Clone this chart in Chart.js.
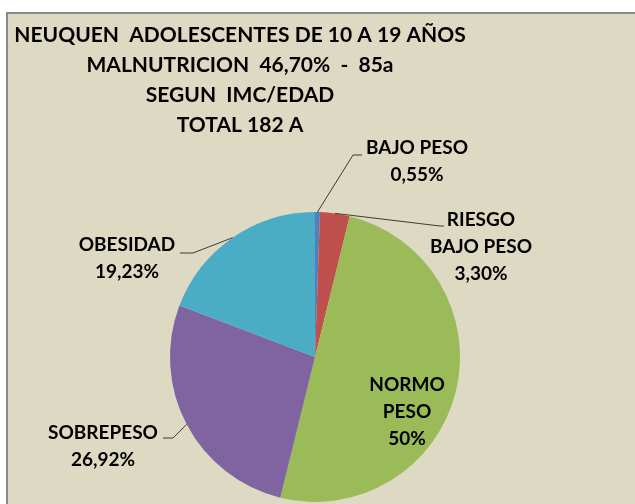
<!DOCTYPE html>
<html>
<head>
<meta charset="utf-8">
<script src="https://cdn.jsdelivr.net/npm/chart.js@4.4.0/dist/chart.umd.min.js"></script>
<style>
    body { margin: 0; background: #fff; }
    #wrap { position: relative; width: 635px; height: 504px; overflow: hidden; }
    #frame { position: absolute; left: 6px; top: 12px; width: 700px; height: 600px; background: #ddd9c3; border: 2px solid #8a8a8a; }
    canvas { position: absolute; left: 0; top: 0; }
</style>
</head>
<body>
<div id="wrap">
    <div id="frame"></div>
    <canvas id="myChart" width="635" height="504"></canvas>
</div>
<script>
const titleLines = [
    "NEUQUEN  ADOLESCENTES DE 10 A 19 AÑOS",
    "MALNUTRICION  46,70%  -  85a",
    "SEGUN  IMC/EDAD",
    "TOTAL 182 A",
];

const categories = [
    ["BAJO PESO"],
    ["RIESGO", "BAJO PESO"],
    ["NORMO", "PESO"],
    ["SOBREPESO"],
    ["OBESIDAD"],
];

const values = [0.55, 3.3, 50, 26.92, 19.23];

const colors = ["#4f81bd", "#c0504d", "#9bbb59", "#8064a2", "#4bacc6"];

// where each data label sits (text centre of first line) and its leader line
const labelLayout = [
    { x: 417, y: 148, line: [[353, 155], [362, 155]] },
    { x: 481, y: 220, line: [[440, 226], [444, 226]] },
    { x: 407, y: 385, line: null },
    { x: 103, y: 433, line: [[173, 438], [163, 438]] },
    { x: 127, y: 245, line: [[193, 253], [180, 253]] },
];

const fontFamily = "Lato, 'Open Sans', sans-serif";

function pct(v) {
    let s = Number.isInteger(v) ? String(v) : v.toFixed(2).replace(".", ",");
    return s + "%";
}

const titlePlugin = {
    id: "titleText",
    afterDraw(chart) {
        const ctx = chart.ctx;
        ctx.save();
        ctx.fillStyle = "#000";
        ctx.font = "bold 21px " + fontFamily;
        ctx.textAlign = "center";
        ctx.textBaseline = "middle";
        titleLines.forEach((t, i) => {
            ctx.fillText(t, 240, 35 + i * 30);
        });
        ctx.restore();
    },
};

const labelPlugin = {
    id: "sliceLabels",
    afterDraw(chart) {
        const ctx = chart.ctx;
        const arcs = chart.getDatasetMeta(0).data;
        ctx.save();
        arcs.forEach((arc, i) => {
            const p = arc.getProps(["x", "y", "startAngle", "endAngle", "outerRadius"], true);
            const mid = (p.startAngle + p.endAngle) / 2;
            const lay = labelLayout[i];
            if (lay.line) {
                ctx.strokeStyle = "#3a3a3a";
                ctx.lineWidth = 1;
                ctx.beginPath();
                ctx.moveTo(p.x + Math.cos(mid) * p.outerRadius, p.y + Math.sin(mid) * p.outerRadius);
                lay.line.forEach((pt) => ctx.lineTo(pt[0], pt[1]));
                ctx.stroke();
            }
            const lines = categories[i].concat([pct(values[i])]);
            ctx.fillStyle = "#000";
            ctx.font = "bold 19px " + fontFamily;
            ctx.textAlign = "center";
            ctx.textBaseline = "middle";
            lines.forEach((t, j) => {
                ctx.fillText(t, lay.x, lay.y + j * 27);
            });
        });
        ctx.restore();
    },
};

const myChart = document.getElementById("myChart").getContext("2d");

const data = {
    labels: categories.map((c) => c.join(" ")),
    datasets: [
        {
            data: values,
            backgroundColor: colors,
            borderWidth: 0,
        },
    ],
};

const config = {
    type: "pie",
    data: data,
    options: {
        responsive: false,
        animation: false,
        devicePixelRatio: 1,
        layout: {
            padding: { top: 212, bottom: 2, left: 170, right: 175 },
        },
        plugins: {
            legend: { display: false },
            tooltip: { enabled: false },
        },
    },
    plugins: [titlePlugin, labelPlugin],
};

const chart = new Chart(myChart, config);
</script>
</body>
</html>
